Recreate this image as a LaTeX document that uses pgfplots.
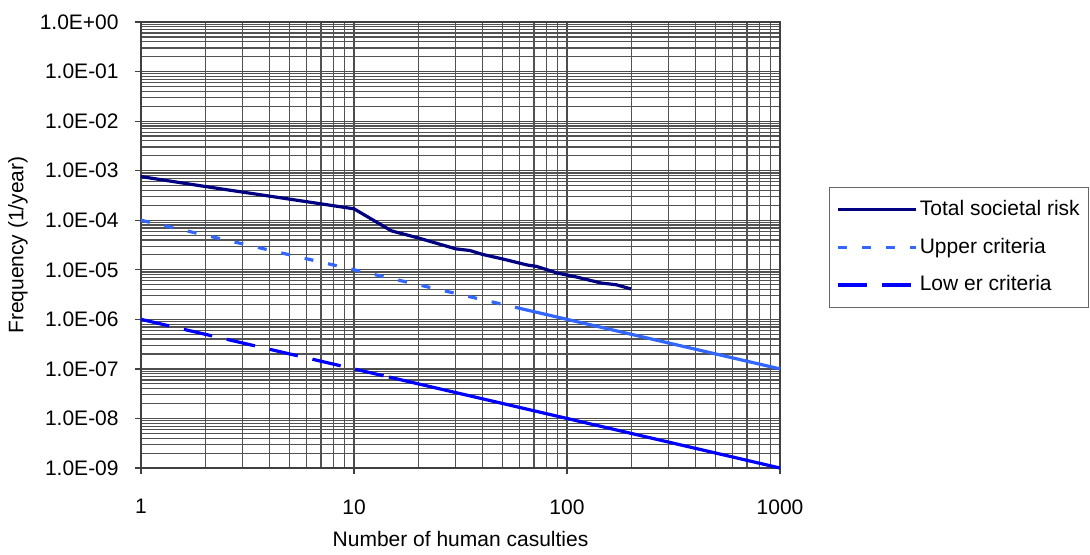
\documentclass[border=0pt]{standalone}
\usepackage{fontspec}
\setmainfont{Liberation Sans}
\usepackage{pgfplots}
\pgfplotsset{compat=1.18}
\definecolor{navyc}{HTML}{000080}
\definecolor{upperc}{HTML}{3366FF}
\definecolor{lowerc}{HTML}{0000FF}
\begin{document}
\fontsize{10.5}{12.6}\selectfont
\begin{tikzpicture}
\path[use as bounding box] (0,0) rectangle (545pt,277pt);
\begin{axis}[
  at={(70.5pt,43pt)}, anchor=south west,
  scale only axis, width=319.5pt, height=223pt,
  xmode=log, ymode=log,
  xmin=1, xmax=1000, ymin=1e-9, ymax=1,
  xtick={1,10,100,1000}, xticklabels={1,10,100,1000},
  ytick={1e-9,1e-8,1e-7,1e-6,1e-5,1e-4,1e-3,1e-2,1e-1,1},
  yticklabels={1.0E-09,1.0E-08,1.0E-07,1.0E-06,1.0E-05,1.0E-04,1.0E-03,1.0E-02,1.0E-01,1.0E+00},
  minor xtick={2,3,4,5,6,7,8,9,20,30,40,50,60,70,80,90,200,300,400,500,600,700,800,900},
  minor ytick={2e-9,3e-9,4e-9,5e-9,6e-9,7e-9,8e-9,9e-9,
               2e-8,3e-8,4e-8,5e-8,6e-8,7e-8,8e-8,9e-8,
               2e-7,3e-7,4e-7,5e-7,6e-7,7e-7,8e-7,9e-7,
               2e-6,3e-6,4e-6,5e-6,6e-6,7e-6,8e-6,9e-6,
               2e-5,3e-5,4e-5,5e-5,6e-5,7e-5,8e-5,9e-5,
               2e-4,3e-4,4e-4,5e-4,6e-4,7e-4,8e-4,9e-4,
               2e-3,3e-3,4e-3,5e-3,6e-3,7e-3,8e-3,9e-3,
               2e-2,3e-2,4e-2,5e-2,6e-2,7e-2,8e-2,9e-2,
               2e-1,3e-1,4e-1,5e-1,6e-1,7e-1,8e-1,9e-1},
  grid=both,
  major grid style={black!70, line width=0.6pt},
  minor grid style={black!68, line width=0.6pt},
  tick align=outside, tick pos=left,
  major tick length=3pt, minor tick length=0pt,
  every tick/.style={black!75, line width=0.6pt},
  axis line style={black!75, line width=0.7pt},
  xticklabel style={anchor=north, inner sep=0pt, yshift=-12.5pt},
  yticklabel style={anchor=east, inner sep=0pt, xshift=-8pt},
  xlabel={Number of human casulties},
  ylabel={Frequency (1/year)},
  xlabel style={at={(axis description cs:0.5,-0.1601)}, anchor=center},
  ylabel style={at={(axis description cs:-0.1925,0.5)}, anchor=center},
  legend style={at={(axis description cs:1.0767,0.495)}, anchor=west,
    draw=black!60, line width=0.6pt, inner xsep=3.5pt, inner ysep=5.5pt,
    row sep={18.85pt,between origins},
    nodes={inner sep=1pt},
    /tikz/every even column/.append style={column sep=0pt}},
  legend cell align=left,
  legend image code/.code={\draw[#1] (0pt,0pt) -- (39pt,0pt);},
  clip=false,
]
\addplot[navyc, line width=1.6pt, line join=round] coordinates {
 (1,7.6e-4) (2,4.8e-4) (5,2.66e-4) (10,1.7e-4) (15,6.1e-5) (20,4.4e-5)
 (30,2.65e-5) (35,2.45e-5) (40,2.05e-5) (50,1.65e-5) (65,1.25e-5) (72,1.17e-5)
 (90,8.6e-6) (110,7.2e-6) (145,5.4e-6) (170,5.0e-6) (200,4.1e-6)};
\addlegendentry{Total societal risk}
\addplot[upperc, line width=1.6pt, dash pattern=on 4.5pt off 7.5pt] coordinates {
 (1,1e-4) (2,5e-5) (5,2e-5) (10,1e-5) (20,5e-6) (30,3.333e-6) (50,2e-6) (60,1.667e-6)};
\addlegendentry{Upper criteria}
\addplot[lowerc, line width=1.6pt, dash pattern=on 14.5pt off 7.5pt] coordinates {
 (1,1e-6) (2,5e-7) (5,2e-7) (10,1e-7) (14.6,6.85e-8)};
\addlegendentry{Low er criteria}
\addplot[upperc, line width=1.6pt, forget plot] coordinates {
 (60,1.667e-6) (100,1e-6) (200,5e-7) (500,2e-7) (1000,1e-7)};
\addplot[lowerc, line width=1.6pt, forget plot] coordinates {
 (14.6,6.85e-8) (20,5e-8) (50,2e-8) (100,1e-8) (200,5e-9) (500,2e-9) (1000,1e-9)};
\end{axis}
\end{tikzpicture}
\end{document}
